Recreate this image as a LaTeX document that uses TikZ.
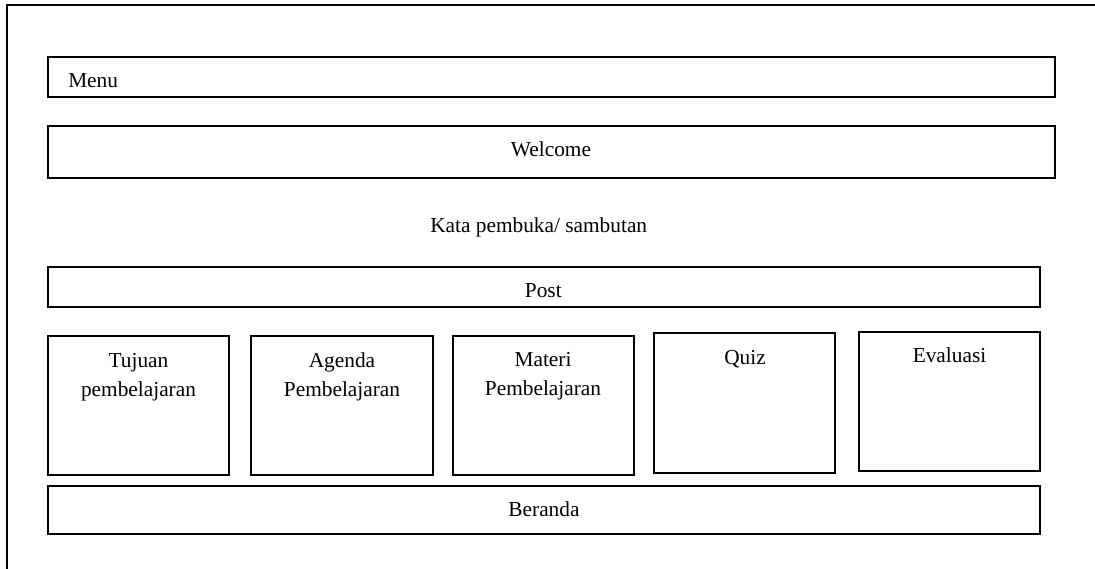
\documentclass[tikz,border=0pt]{standalone}
\usepackage{fontspec}
\setmainfont{Liberation Serif}
\begin{document}
\begin{tikzpicture}[x=0.75pt,y=-0.75pt,
  frame/.style={draw=black,line width=1.3pt},
  box/.style={draw=black,line width=1.3pt,rectangle,anchor=north west,inner sep=0pt,outer sep=0pt},
  txt/.style={font=\fontsize{16}{21.75}\selectfont,inner sep=0pt,align=center,anchor=base}]
\useasboundingbox (0,0) rectangle (1095,568);
% outer frame (cut at right and bottom)
\coordinate (frTR) at (1100,5);
\coordinate (frTL) at (7,5);
\coordinate (frBL) at (7,575);
\draw[frame] (frTR) -- (frTL) -- (frBL);
% bars
\node[box,minimum width=1007*0.75pt,minimum height=40*0.75pt] (menu) at (48,57) {};
\node[box,minimum width=1007*0.75pt,minimum height=52*0.75pt] (welcome) at (48,126) {};
\node[box,minimum width=992*0.75pt,minimum height=40*0.75pt] (post) at (48,267) {};
\node[box,minimum width=992*0.75pt,minimum height=48*0.75pt] (beranda) at (48,486) {};
% cards
\node[box,minimum width=181*0.75pt,minimum height=139*0.75pt] (tujuan) at (48,336) {};
\node[box,minimum width=182*0.75pt,minimum height=139*0.75pt] (agenda) at (251,336) {};
\node[box,minimum width=181*0.75pt,minimum height=139*0.75pt] (materi) at (453,336) {};
\node[box,minimum width=181*0.75pt,minimum height=140*0.75pt] (quiz) at (654,333) {};
\node[box,minimum width=181*0.75pt,minimum height=139*0.75pt] (evaluasi) at (859,332) {};
% texts
\node[txt,anchor=base west] (tmenu) at (68,87) {Menu};
\node[txt] (twelcome) at (551,156.7) {Welcome};
\node[txt] (tkata) at (538.7,232.7) {Kata pembuka/ sambutan};
\node[txt] (tpost) at (543.3,297.7) {Post};
\node[txt] (tberanda) at (544,516.7) {Beranda};
\node[txt] (ttujuan) at (138.5,396) {Tujuan\\pembelajaran};
\node[txt] (tagenda) at (342,396) {Agenda\\Pembelajaran};
\node[txt] (tmateri) at (543,395.7) {Materi\\Pembelajaran};
\node[txt] (tquiz) at (745,364) {Quiz};
\node[txt] (tevaluasi) at (949.5,362) {Evaluasi};
\end{tikzpicture}
\end{document}
